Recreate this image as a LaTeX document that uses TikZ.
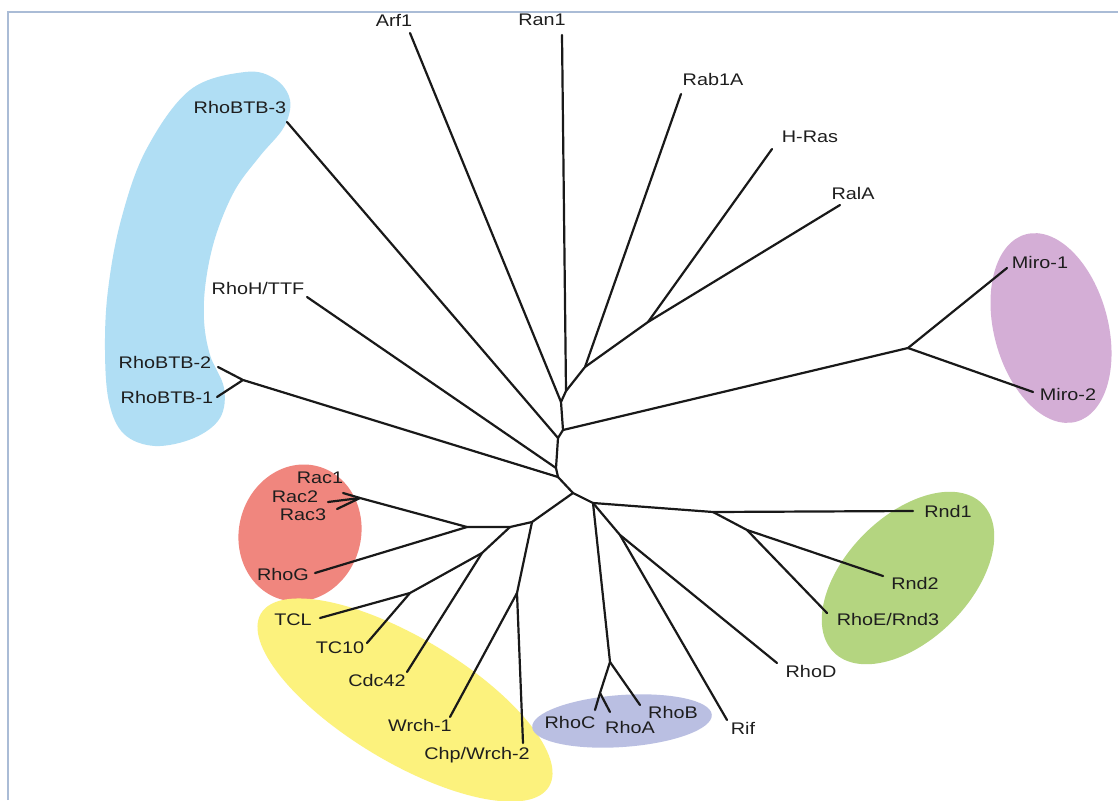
\documentclass[tikz,border=0pt]{standalone}
\usepackage{fontspec}
\setmainfont{Liberation Sans}[FakeStretch=1.18]
\definecolor{framec}{RGB}{170,188,214}
\definecolor{btbc}{RGB}{176,222,244}
\definecolor{miroc}{RGB}{212,174,214}
\definecolor{racc}{RGB}{240,134,126}
\definecolor{cdcc}{RGB}{252,242,125}
\definecolor{rhoac}{RGB}{186,191,226}
\definecolor{rndc}{RGB}{180,213,128}
\definecolor{txtc}{RGB}{30,30,30}
\begin{document}
\begin{tikzpicture}[x=1pt,y=-1pt,
  br/.style={line width=2.2pt, line cap=round, line join=round, draw=black!90},
  lab/.style={font=\fontsize{16.8}{18}\selectfont, text=txtc, inner sep=0pt}]
\useasboundingbox (0,0) rectangle (1118,800);
\fill[white] (0,0) rectangle (1118,800);
% frame
\draw[framec, line width=2.2pt] (8,800) -- (8,12) -- (1118,12);
% coloured groups
\fill[btbc] plot[smooth cycle, tension=0.6] coordinates {(245,72) (275,79) (290,100) (284,127) (260,156) (235,190) (216,235) (206,280) (204,320) (210,355) (224,388) (220,418) (194,438) (155,446) (124,434) (109,402) (105,350) (108,290) (121,220) (146,150) (190,90)};
\fill[miroc, rotate around={15:(1051,328)}] (1051,328) ellipse [x radius=57pt, y radius=97pt];
\fill[racc, rotate around={-15:(300,533)}] (300,533) ellipse [x radius=61pt, y radius=69pt];
\fill[cdcc, rotate around={-31:(405,700)}] (405,700) ellipse [x radius=168pt, y radius=62pt];
\fill[rhoac, rotate around={4:(622,721)}] (622,721) ellipse [x radius=90pt, y radius=26pt];
\fill[rndc, rotate around={45:(908,578)}] (908,578) ellipse [x radius=105pt, y radius=62pt];
% internal nodes
\coordinate (C) at (573,493);
\coordinate (S1) at (558,477);
\coordinate (S2) at (556,468);
\coordinate (S3) at (558,438);
\coordinate (S4) at (563,430);
\coordinate (S5) at (561,402);
\coordinate (S6) at (566,391);
\coordinate (N1) at (585,367);
\coordinate (N2) at (648,322);
\coordinate (M) at (908,348);
\coordinate (BTB) at (243,380);
\coordinate (RAC) at (360,498);
\coordinate (RG) at (467,527);
\coordinate (L1) at (510,527);
\coordinate (L0) at (532,522);
\coordinate (TC) at (482,553);
\coordinate (TT) at (410,593);
\coordinate (WR) at (517,593);
\coordinate (D) at (593,503);
\coordinate (R1) at (713,512);
\coordinate (R2) at (747,530);
\coordinate (RA) at (610,662);
\coordinate (RA2) at (600,693);
\coordinate (E) at (620,535);
% leaf ends
\coordinate (earf) at (410,33);
\coordinate (eran) at (562,35);
\coordinate (erab) at (681,94);
\coordinate (ehras) at (772,149);
\coordinate (eral) at (840,205);
\coordinate (em1) at (1007,268);
\coordinate (em2) at (1033,392);
\coordinate (ebtb3) at (287,122);
\coordinate (erhoh) at (307,297);
\coordinate (ebtb2) at (218,367);
\coordinate (ebtb1) at (217,397);
\coordinate (erac1) at (343,493);
\coordinate (erac2) at (328,502);
\coordinate (erac3) at (337,509);
\coordinate (erhog) at (315,573);
\coordinate (etcl) at (320,618);
\coordinate (etc10) at (367,643);
\coordinate (ecdc) at (407,672);
\coordinate (ew1) at (450,717);
\coordinate (ew2) at (523,743);
\coordinate (erhoc) at (595,710);
\coordinate (erhoa) at (610,712);
\coordinate (erhob) at (640,705);
\coordinate (erif) at (727,720);
\coordinate (erhod) at (777,663);
\coordinate (ernd1) at (913,511);
\coordinate (ernd2) at (883,576);
\coordinate (ernd3) at (827,613);
% branches
\draw[br] (C) -- (S1) -- (S2) -- (S3) -- (S4) -- (S5) -- (S6) -- (eran);
\draw[br] (S5) -- (earf);
\draw[br] (S6) -- (N1) -- (erab);
\draw[br] (N1) -- (N2) -- (ehras);
\draw[br] (N2) -- (eral);
\draw[br] (S4) -- (M) -- (em1);
\draw[br] (M) -- (em2);
\draw[br] (S3) -- (ebtb3);
\draw[br] (S2) -- (erhoh);
\draw[br] (S1) -- (BTB) -- (ebtb2);
\draw[br] (BTB) -- (ebtb1);
\draw[br] (C) -- (L0) -- (L1) -- (RG) -- (RAC) -- (erac1);
\draw[br] (RAC) -- (erac2);
\draw[br] (RAC) -- (erac3);
\draw[br] (RG) -- (erhog);
\draw[br] (L1) -- (TC) -- (TT) -- (etcl);
\draw[br] (TT) -- (etc10);
\draw[br] (TC) -- (ecdc);
\draw[br] (L0) -- (WR) -- (ew1);
\draw[br] (WR) -- (ew2);
\draw[br] (C) -- (D) -- (R1) -- (ernd1);
\draw[br] (R1) -- (R2) -- (ernd2);
\draw[br] (R2) -- (ernd3);
\draw[br] (D) -- (RA) -- (erhob);
\draw[br] (RA) -- (RA2) -- (erhoc);
\draw[br] (RA2) -- (erhoa);
\draw[br] (D) -- (E) -- (erhod);
\draw[br] (E) -- (erif);
% labels
\node[lab] (tarf) at (394,20) {Arf1};
\node[lab] (tran) at (542,20) {Ran1};
\node[lab] (trab) at (713,79) {Rab1A};
\node[lab] (thras) at (810,137) {H-Ras};
\node[lab] (tral) at (853,193) {RalA};
\node[lab] (tm1) at (1040,262) {Miro-1};
\node[lab] (tm2) at (1068,394) {Miro-2};
\node[lab] (tbtb3) at (240,107) {RhoBTB-3};
\node[lab] (trhoh) at (258,288) {RhoH/TTF};
\node[lab] (tbtb2) at (165,362) {RhoBTB-2};
\node[lab] (tbtb1) at (167,397) {RhoBTB-1};
\node[lab] (trac1) at (320,478) {Rac1};
\node[lab] (trac2) at (295,497) {Rac2};
\node[lab] (trac3) at (303,515) {Rac3};
\node[lab] (trhog) at (283,574) {RhoG};
\node[lab] (ttcl) at (293,620) {TCL};
\node[lab] (ttc10) at (340,648) {TC10};
\node[lab] (tcdc) at (377,680) {Cdc42};
\node[lab] (tw1) at (420,725) {Wrch-1};
\node[lab] (tw2) at (477,755) {Chp/Wrch-2};
\node[lab] (trhoc) at (570,722) {RhoC};
\node[lab] (trhoa) at (630,727) {RhoA};
\node[lab] (trhob) at (673,712) {RhoB};
\node[lab] (trif) at (743,728) {Rif};
\node[lab] (trhod) at (811,671) {RhoD};
\node[lab] (trnd1) at (948,511) {Rnd1};
\node[lab] (trnd2) at (915,583) {Rnd2};
\node[lab] (trnd3) at (888,619) {RhoE/Rnd3};
\end{tikzpicture}
\end{document}
